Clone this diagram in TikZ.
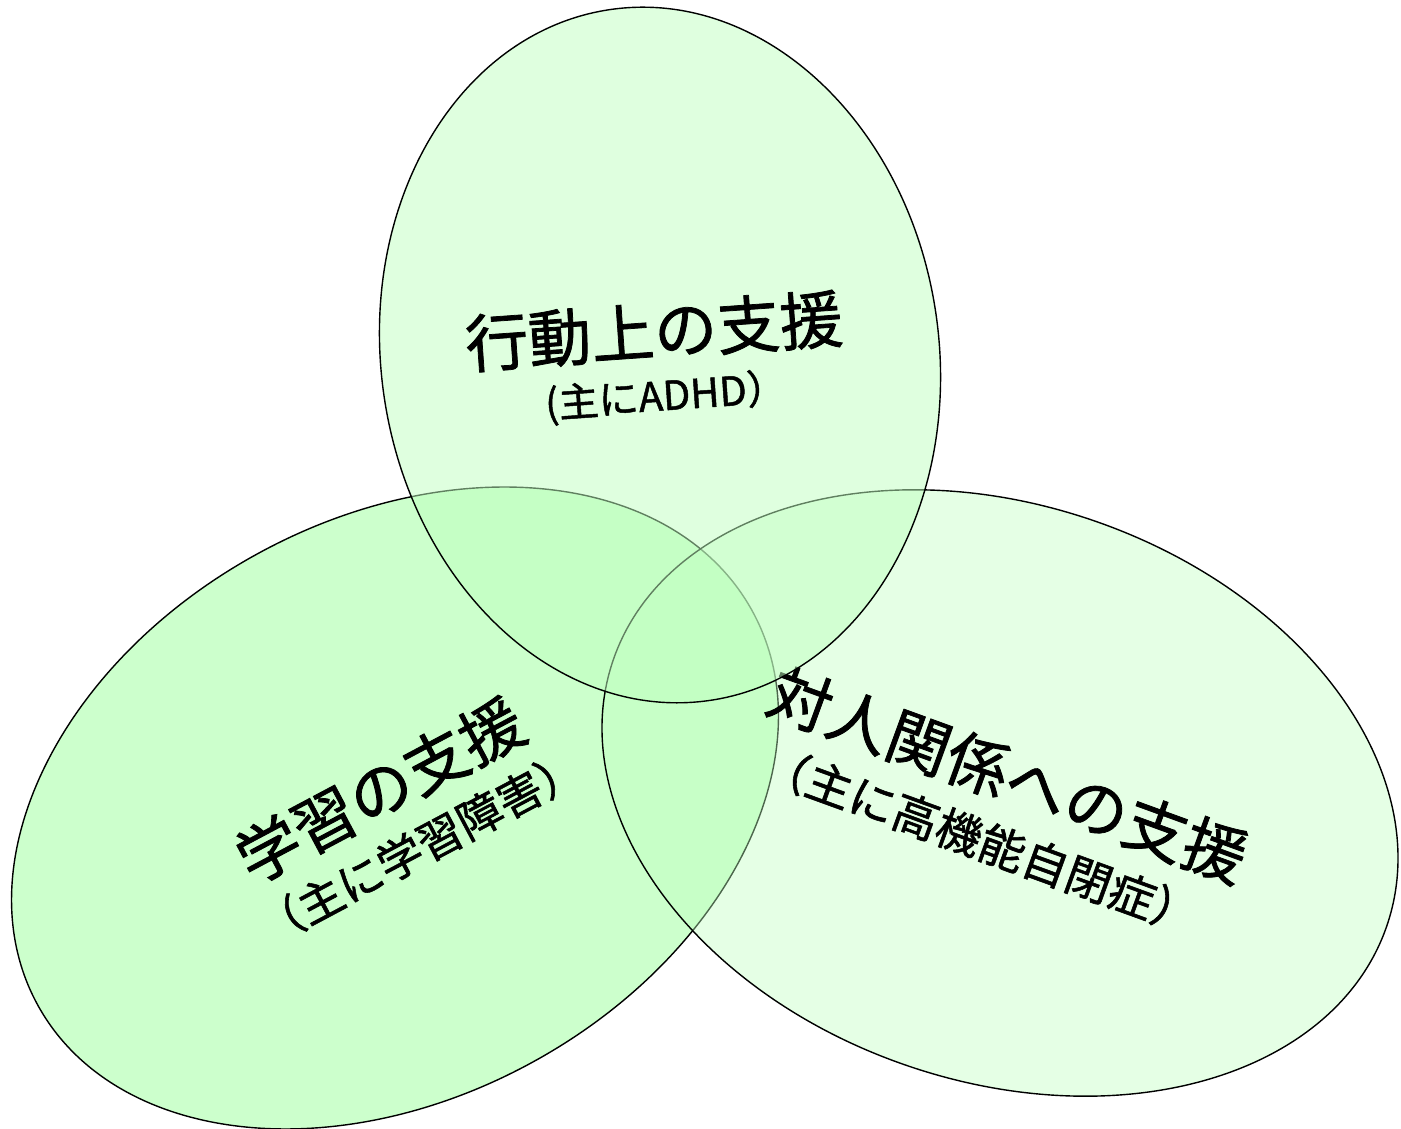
\documentclass[tikz,border=0pt]{standalone}
\usepackage{fontspec}
\newfontfamily\jp[FakeBold=1.2]{Noto Sans CJK JP}
\definecolor{leftfill}{RGB}{204,255,204}
\definecolor{softgreen}{RGB}{192,255,192}
\tikzset{
  blob/.style={draw=black, line width=1.4pt},
  title/.style={inner sep=0pt, font=\jp\fontsize{63}{63}\selectfont},
  sub/.style={inner sep=0pt, font=\jp\fontsize{44}{44}\selectfont},
}
\begin{document}
\begin{tikzpicture}[x=1pt,y=1pt]
\useasboundingbox (0,0) rectangle (1401,1128);
\fill[white] (0,0) rectangle (1401,1128);
% left ellipse
\path[blob, fill=leftfill] (395,320) ellipse [x radius=408, y radius=289, rotate=29];
\node[title, rotate=28] (lt) at (380,338) {学習の支援};
\node[sub, rotate=28, font=\jp\fontsize{45}{45}\selectfont] (ls) at (420,281) {（主に学習障害）};
% right ellipse
\path[blob, fill=softgreen, fill opacity=0.4] (1000,335) ellipse [x radius=409, y radius=288, rotate=-19];
\node[title, rotate=-20] (rt) at (1008,353) {対人関係への支援};
\node[sub, rotate=-20, font=\jp\fontsize{46}{46}\selectfont] (rs) at (981,288) {（主に高機能自閉症）};
% top ellipse
\path[blob, fill=softgreen, fill opacity=0.5] (660,773) ellipse [x radius=279, y radius=349, rotate=8];
\node[title, rotate=4] (tt) at (654,797) {行動上の支援};
\node[sub, rotate=4, font=\jp\fontsize{40}{40}\selectfont] (ts) at (666,731) {(主にADHD）};
\end{tikzpicture}
\end{document}
